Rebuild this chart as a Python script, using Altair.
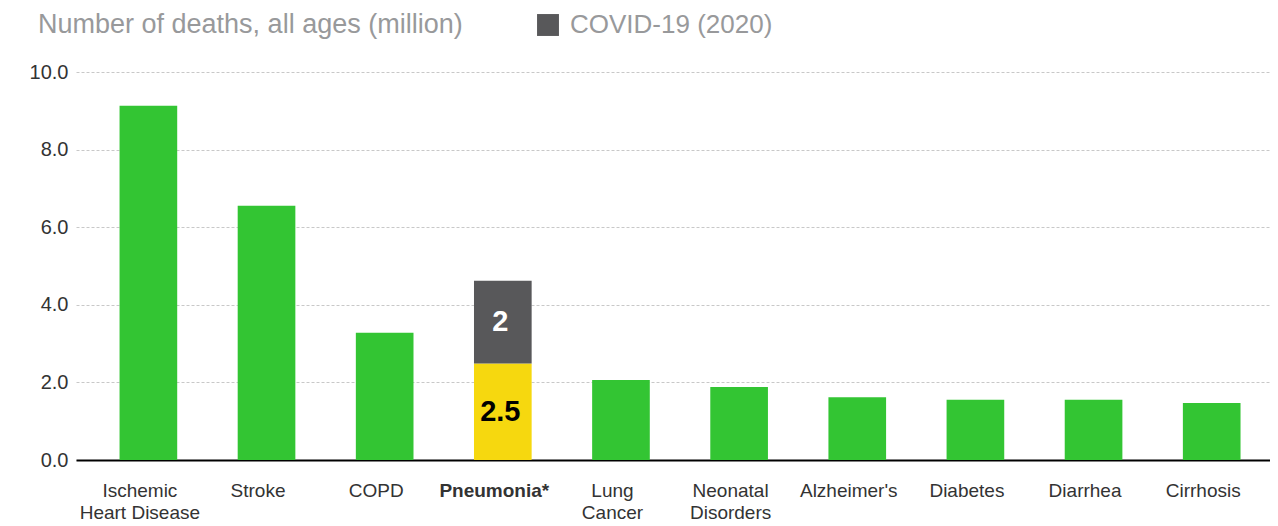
import altair as alt
import pandas as pd

categories = ["Ischemic|Heart Disease", "Stroke", "COPD", "Pneumonia*", "Lung|Cancer",
              "Neonatal|Disorders", "Alzheimer's", "Diabetes", "Diarrhea", "Cirrhosis"]
base_values = [9.13, 6.55, 3.28, 2.49, 2.06, 1.88, 1.62, 1.55, 1.55, 1.47]
covid_values = [0, 0, 0, 2.13, 0, 0, 0, 0, 0, 0]
base_labels = ["", "", "", "2.5", "", "", "", "", "", ""]
covid_labels = ["", "", "", "2", "", "", "", "", "", ""]

series_names = ["Leading causes", "Pneumonia", "COVID-19 (2020)"]
series_colors = ["#33C533", "#F6D80F", "#58585A"]

rows = []
for cat, b, c, bl, cl in zip(categories, base_values, covid_values, base_labels, covid_labels):
    s = "Pneumonia" if cat == "Pneumonia*" else "Leading causes"
    rows.append(dict(category=cat, series=s, start=0.0, end=b, mid=b / 2, label=bl, tcolor="#000000"))
    if c > 0:
        rows.append(dict(category=cat, series="COVID-19 (2020)", start=b, end=b + c,
                         mid=b + c / 2, label=cl, tcolor="#FFFFFF"))
df = pd.DataFrame(rows)

FONT = "Liberation Sans"
xscale = alt.Scale(paddingInner=0.512, paddingOuter=0.309, align=0.48)
xenc = alt.X("category:N", sort=categories, scale=xscale, title=None,
             axis=alt.Axis(labelExpr="split(datum.label, '|')", labelFontSize=19,
                           labelColor="#333333", labelFont=FONT,
                           labelFontWeight={"condition": {"test": "datum.value == 'Pneumonia*'", "value": "bold"}, "value": "normal"},
                           labelAngle=0, ticks=False, domainColor="#000000", domainWidth=2,
                           labelPadding=21, labelLineHeight=22, labelBaseline="top",
                           labelLimit=300))

bars = alt.Chart(df).mark_bar(xOffset=8.5).encode(
    x=xenc,
    y=alt.Y("start:Q", scale=alt.Scale(domain=[0, 10], nice=False), title=None,
            axis=alt.Axis(values=[0, 2, 4, 6, 8, 10], format=".1f", labelFontSize=20,
                          labelColor="#333333", labelFont=FONT,
                          grid=True, gridDash=[3, 2], gridColor="#c8c8c8", gridWidth=1,
                          domain=False, ticks=False, labelPadding=8)),
    y2="end:Q",
    color=alt.Color("series:N", scale=alt.Scale(domain=series_names, range=series_colors),
                    legend=alt.Legend(values=["COVID-19 (2020)"], orient="none", legendX=-38,
                                      legendY=-60,
                                      title="Number of deaths, all ages (million)",
                                      titleOrient="left", titleFontSize=27,
                                      titleColor="#98999b", titleFont=FONT,
                                      titleFontWeight="normal", titlePadding=72,
                                      titleLimit=600,
                                      symbolType="square",
                                      symbolSize=480, symbolStrokeWidth=0, labelFontSize=26,
                                      labelColor="#98999b", labelFont=FONT,
                                      labelOffset=9, labelLimit=400)),
)

texts = alt.Chart(df[df["label"] != ""]).mark_text(fontSize=29, fontWeight="bold",
                                                  font=FONT, baseline="middle",
                                                  xOffset=6, dy=0).encode(
    x=alt.X("category:N", sort=categories, scale=xscale),
    y=alt.Y("mid:Q"),
    text="label:N",
    color=alt.Color("tcolor:N", scale=None),
)

chart = (bars + texts).properties(
    width=1194, height=388,
    autosize=alt.AutoSizeParams(type="none"),
    padding={"left": 68, "top": 64, "right": 0, "bottom": 66},
).configure_view(stroke=None)

chart.save("out.html", embed_options={"renderer": "svg", "actions": False})
